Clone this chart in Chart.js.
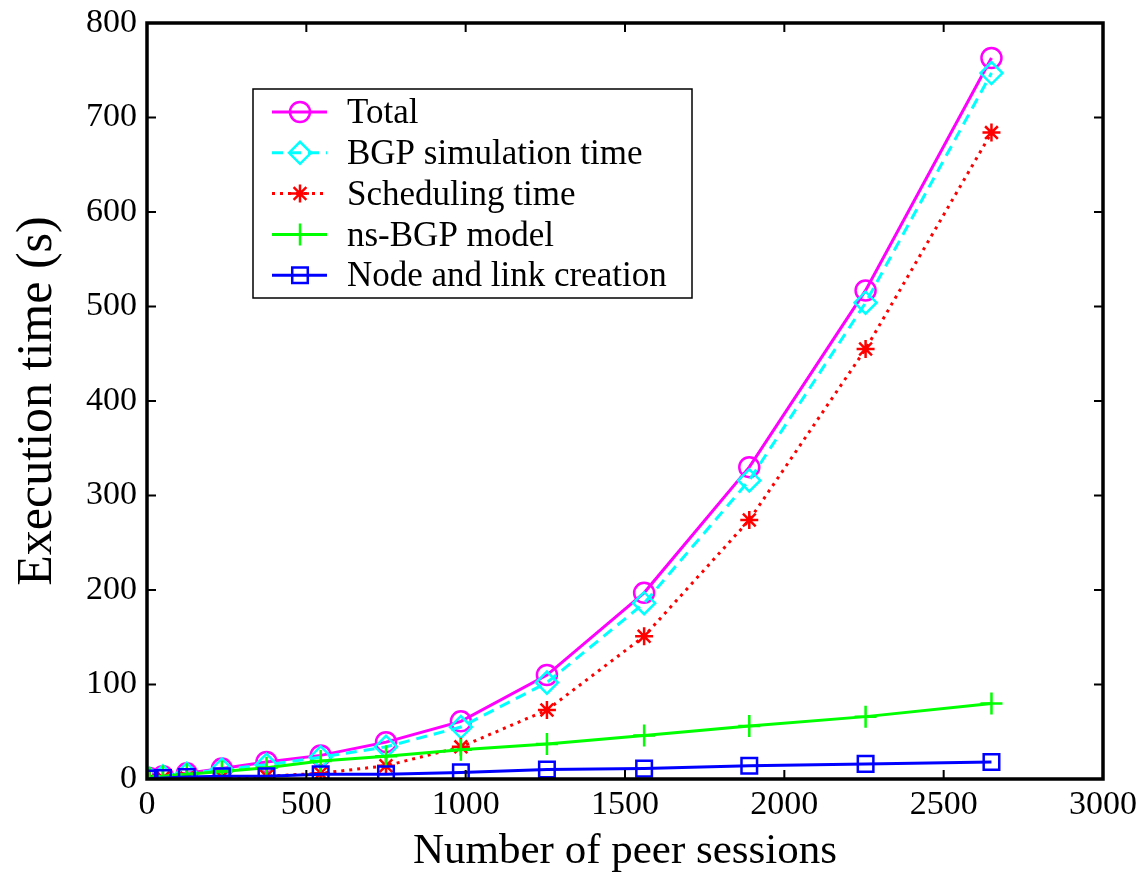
<!DOCTYPE html>
<html>
<head>
<meta charset="utf-8">
<script src="https://cdn.jsdelivr.net/npm/chart.js@4/dist/chart.umd.min.js"></script>
<style>
  body { margin: 0; background: #fff; }
  #wrap { width: 1142px; height: 878px; }
</style>
</head>
<body>
<div id="wrap"><canvas id="chart" width="1142" height="878"></canvas></div>
<script>
// peer sessions (x) and execution times (s)
var sessions = [8, 50, 125, 235, 375, 545, 750, 985, 1255, 1560, 1890, 2255, 2650];
var total    = [1, 3, 6, 11, 18, 25, 39, 61, 110, 197, 330, 517, 763];
var bgpSim   = [0.5, 3, 5.5, 10, 15, 23, 34, 55, 102, 186, 316, 504, 747];
var sched    = [0, 1, 1, 2, 3, 6, 14, 34, 73, 151, 274, 455, 684];
var nsBgp    = [1, 3, 5, 8, 12, 19, 24, 31, 37, 46, 56, 66, 80];
var nodeLink = [0.5, 1, 2, 3, 3, 5, 5, 7, 10, 11, 14, 16, 18];

var seriesNames = ['Total', 'BGP simulation time', 'Scheduling time', 'ns-BGP model', 'Node and link creation'];
var xTicks = [0, 500, 1000, 1500, 2000, 2500, 3000];
var yTicks = [0, 100, 200, 300, 400, 500, 600, 700, 800];

var FONT = '"Liberation Serif", "Times New Roman", serif';

function pts(ys) {
    return sessions.map(function(x, i) { return {x: x, y: ys[i]}; });
}

function makeSet(label, ys, color, style, radius, dash, order) {
    return {
        label: label,
        data: pts(ys),
        borderColor: color,
        backgroundColor: 'rgba(0,0,0,0)',
        borderWidth: 3,
        borderDash: dash,
        pointStyle: style,
        pointRadius: radius,
        pointHoverRadius: radius,
        pointBorderColor: color,
        pointBackgroundColor: 'rgba(0,0,0,0)',
        pointBorderWidth: 2.5,
        tension: 0,
        order: order
    };
}

// frame, inward ticks and legend box drawn over the chart area
var matlabBox = {
    id: 'matlabBox',
    afterDatasetsDraw: function(chart) {
        var ctx = chart.ctx, a = chart.chartArea;
        var xs = chart.scales.x, ys = chart.scales.y;
        ctx.save();
        ctx.strokeStyle = '#000';
        ctx.lineWidth = 2;
        xTicks.forEach(function(v) {
            var px = xs.getPixelForValue(v);
            ctx.beginPath();
            ctx.moveTo(px, a.bottom); ctx.lineTo(px, a.bottom - 9);
            ctx.moveTo(px, a.top); ctx.lineTo(px, a.top + 9);
            ctx.stroke();
        });
        yTicks.forEach(function(v) {
            var py = ys.getPixelForValue(v);
            ctx.beginPath();
            ctx.moveTo(a.left, py); ctx.lineTo(a.left + 9, py);
            ctx.moveTo(a.right, py); ctx.lineTo(a.right - 9, py);
            ctx.stroke();
        });
        ctx.lineWidth = 3.5;
        ctx.strokeRect(a.left, a.top, a.right - a.left, a.bottom - a.top);

        // legend
        var lx = 253, ly = 89, lw = 439, lh = 209;
        ctx.fillStyle = '#fff';
        ctx.fillRect(lx, ly, lw, lh);
        ctx.lineWidth = 1.5;
        ctx.strokeRect(lx, ly, lw, lh);
        ctx.font = '35px ' + FONT;
        ctx.textBaseline = 'middle';
        ctx.textAlign = 'left';
        chart.data.datasets.forEach(function(ds, i) {
            var y = 112 + i * 40.8;
            ctx.strokeStyle = ds.borderColor;
            ctx.lineWidth = ds.borderWidth;
            ctx.setLineDash(ds.borderDash || []);
            ctx.beginPath();
            ctx.moveTo(272, y); ctx.lineTo(327, y);
            ctx.stroke();
            ctx.setLineDash([]);
            ctx.lineWidth = ds.pointBorderWidth;
            ctx.fillStyle = 'rgba(0,0,0,0)';
            Chart.helpers.drawPoint(ctx, {
                pointStyle: ds.pointStyle, radius: ds.pointRadius,
                borderWidth: ds.pointBorderWidth, rotation: 0
            }, 300, y);
            ctx.fillStyle = '#000';
            ctx.fillText(ds.label, 347, y + 2);
        });
        ctx.restore();
    }
};

function plain(v) { return String(v); }

var ctx = document.getElementById('chart');
var myChart = new Chart(ctx, {
    type: 'line',
    data: {
        datasets: [
            makeSet(seriesNames[0], total,    '#ff00ff', 'circle',  10, [],      5),
            makeSet(seriesNames[1], bgpSim,   '#00ffff', 'rectRot', 11, [11, 7], 4),
            makeSet(seriesNames[2], sched,    '#ff0000', 'star',     9, [3, 5],  3),
            makeSet(seriesNames[3], nsBgp,    '#00ff00', 'cross',   11, [],      2),
            makeSet(seriesNames[4], nodeLink, '#0000ff', 'rect',    11, [],      1)
        ]
    },
    options: {
        responsive: false,
        animation: false,
        layout: { padding: { top: 23, right: 39, left: 0, bottom: 0 } },
        plugins: { legend: { display: false }, tooltip: { enabled: false } },
        scales: {
            x: {
                type: 'linear', min: 0, max: 3000,
                afterBuildTicks: function(s) { s.ticks = xTicks.map(function(v) { return {value: v}; }); },
                afterFit: function(s) { s.height = 99; s.paddingLeft = 0; s.paddingRight = 0; },
                grid: { display: false, drawTicks: false },
                border: { display: false },
                ticks: { color: '#000', padding: 6, maxRotation: 0, callback: plain,
                         font: { family: FONT, size: 34 } },
                title: { display: true, text: 'Number of peer sessions', color: '#000',
                         padding: 0, font: { family: FONT, size: 43 } }
            },
            y: {
                type: 'linear', min: 0, max: 800,
                afterBuildTicks: function(s) { s.ticks = yTicks.map(function(v) { return {value: v}; }); },
                afterFit: function(s) { s.width = 147; s.paddingTop = 0; s.paddingBottom = 0; },
                grid: { display: false, drawTicks: false },
                border: { display: false },
                ticks: { color: '#000', padding: 10, callback: plain,
                         font: { family: FONT, size: 34 } },
                title: { display: true, text: 'Execution time (s)', color: '#000',
                         padding: 8, font: { family: FONT, size: 50 } }
            }
        }
    },
    plugins: [matlabBox]
});
</script>
</body>
</html>
